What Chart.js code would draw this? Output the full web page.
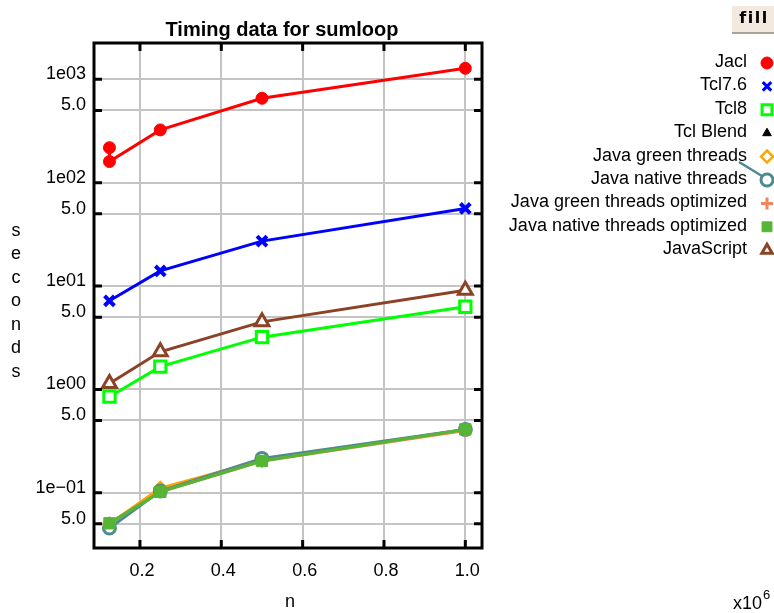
<!DOCTYPE html>
<html lang="en">
<head>
    <meta charset="UTF-8">
    <title>Timing data for sumloop</title>
    <style>
        body {
            margin: 0;
            padding: 0;
            background-color: #ffffff;
        }
        .container {
            width: 774px;
            height: 613px;
        }
    </style>
    <script src="https://cdn.jsdelivr.net/npm/chart.js"></script>
</head>
<body>
    <div class="container">
        <canvas id="timingChart" width="774" height="613"></canvas>
    </div>

    <script>
        // n values (x10^6)
        const nValues = [0.125, 0.25, 0.5, 1.0];
        const nJacl = [0.125, 0.125, 0.25, 0.5, 1.0];

        // seconds
        const jacl = [218, 160, 324, 655, 1277];
        const tcl76 = [7.2, 14.0, 27.2, 56.3];
        const tcl8 = [0.85, 1.66, 3.2, 6.3];
        const tclBlend = [];
        const javaGreen = [0.050, 0.111, 0.205, 0.41];
        const javaNative = [0.0456, 0.104, 0.215, 0.41];
        const javaGreenOpt = [0.051, 0.102, 0.203, 0.40];
        const javaNativeOpt = [0.0506, 0.102, 0.203, 0.41];
        const javaScript = [1.14, 2.31, 4.5, 9.1];

        const seriesNames = ['Jacl', 'Tcl7.6', 'Tcl8', 'Tcl Blend', 'Java green threads',
            'Java native threads', 'Java green threads optimized', 'Java native threads optimized', 'JavaScript'];

        const xTickValues = [0.2, 0.4, 0.6, 0.8, 1.0];
        const xTickLabels = ['0.2', '0.4', '0.6', '0.8', '1.0'];
        const yTickValues = [0.05, 0.1, 0.5, 1, 5, 10, 50, 100, 500, 1000];
        const yTickLabels = ['5.0', '1e\u221201', '5.0', '1e00', '5.0', '1e01', '5.0', '1e02', '5.0', '1e03'];

        const FONT = '"Liberation Sans", Arial, sans-serif';

        function points(xs, ys) {
            return ys.map((y, i) => ({ x: xs[i], y: y }));
        }

        // marker styles per series (legend uses the same ones)
        const styles = [
            { color: '#ff0000', pointStyle: 'circle', radius: 6, fill: '#ff0000', bw: 1 },
            { color: '#0000ff', pointStyle: 'crossRot', radius: 7, fill: '#0000ff', bw: 4 },
            { color: '#00ff00', pointStyle: 'rect', radius: 8, fill: '#ffffff', bw: 3 },
            { color: '#000000', pointStyle: 'triangle', radius: 6, fill: '#000000', bw: 1 },
            { color: '#ffa500', pointStyle: 'rectRot', radius: 6, fill: '#ffffff', bw: 2.5 },
            { color: '#4f8a8d', pointStyle: 'circle', radius: 6, fill: '#ffffff', bw: 3 },
            { color: '#f4845a', pointStyle: 'cross', radius: 6, fill: '#f4845a', bw: 3 },
            { color: '#55b535', pointStyle: 'rect', radius: 8, fill: '#55b535', bw: 1 },
            { color: '#8b4226', pointStyle: 'triangle', radius: 8, fill: '#ffffff', bw: 3 }
        ];

        const seriesData = [
            points(nJacl, jacl),
            points(nValues, tcl76),
            points(nValues, tcl8),
            points(nValues, tclBlend),
            points(nValues, javaGreen),
            points(nValues, javaNative),
            points(nValues, javaGreenOpt),
            points(nValues, javaNativeOpt),
            points(nValues, javaScript)
        ];

        const datasets = seriesNames.map((name, i) => ({
            label: name,
            data: seriesData[i],
            showLine: true,
            borderColor: styles[i].color,
            backgroundColor: styles[i].fill,
            pointBorderColor: styles[i].color,
            pointBackgroundColor: styles[i].fill,
            pointStyle: styles[i].pointStyle,
            pointRadius: styles[i].radius,
            pointBorderWidth: styles[i].bw,
            borderWidth: 3,
            order: 10 - i
        }));

        // frame, inward ticks, custom legend and extra labels
        const decorations = {
            id: 'decorations',
            afterDraw(chart) {
                const ctx = chart.ctx;
                const a = chart.chartArea;
                const xs = chart.scales.x;
                const ys = chart.scales.y;
                ctx.save();

                // inward tick marks
                ctx.strokeStyle = '#000';
                ctx.lineWidth = 3;
                ctx.beginPath();
                xTickValues.forEach(v => {
                    const px = xs.getPixelForValue(v);
                    ctx.moveTo(px, a.top); ctx.lineTo(px, a.top + 8);
                    ctx.moveTo(px, a.bottom); ctx.lineTo(px, a.bottom - 8);
                });
                yTickValues.forEach(v => {
                    const py = ys.getPixelForValue(v);
                    ctx.moveTo(a.left, py); ctx.lineTo(a.left + 8, py);
                    ctx.moveTo(a.right, py); ctx.lineTo(a.right - 8, py);
                });
                ctx.stroke();
                ctx.strokeRect(a.left, a.top, a.right - a.left, a.bottom - a.top);

                // title
                ctx.fillStyle = '#000';
                ctx.font = 'bold 20px ' + FONT;
                ctx.textAlign = 'center';
                ctx.textBaseline = 'middle';
                ctx.fillText('Timing data for sumloop', 282, 30);

                // y title, letters stacked
                ctx.font = '18px ' + FONT;
                'seconds'.split('').forEach((ch, i) => {
                    ctx.fillText(ch, 16, 231 + i * 23.5);
                });

                // x title and multiplier
                ctx.fillText('n', 290, 602);
                ctx.textAlign = 'left';
                ctx.fillText('x10', 733, 604);
                ctx.font = '13px ' + FONT;
                ctx.fillText('6', 763, 595);

                // fill button
                ctx.fillStyle = '#f3e9df';
                ctx.fillRect(732, 6, 42, 27);
                ctx.fillStyle = '#a9a39c';
                ctx.fillRect(732, 32, 42, 2);
                ctx.fillStyle = '#000';
                ctx.font = 'bold 16px "DejaVu Sans", sans-serif';
                ctx.letterSpacing = '1.5px';
                ctx.textAlign = 'center';
                ctx.fillText('fill', 754, 19);
                ctx.letterSpacing = '0px';

                // legend
                ctx.font = '18px ' + FONT;
                ctx.textAlign = 'right';
                const drawPoint = Chart.helpers && Chart.helpers.drawPoint;
                seriesNames.forEach((name, i) => {
                    const y = 62 + i * 23.4;
                    ctx.fillStyle = '#000';
                    ctx.fillText(name, 747, y);
                    const s = styles[i];
                    if (i === 5) {
                        ctx.strokeStyle = s.color;
                        ctx.lineWidth = 2.5;
                        ctx.beginPath();
                        ctx.moveTo(739, 162);
                        ctx.lineTo(762, 176);
                        ctx.stroke();
                    }
                    ctx.fillStyle = s.fill;
                    ctx.strokeStyle = s.color;
                    ctx.lineWidth = Math.min(s.bw, 3);
                    const r = (s.pointStyle === 'rect') ? 7 : (s.pointStyle === 'triangle' && i === 3 ? 5 : 6);
                    if (drawPoint) {
                        drawPoint(ctx, { pointStyle: s.pointStyle, radius: r, rotation: 0, borderWidth: s.bw }, 767, y + 1);
                    }
                });
                ctx.restore();
            }
        };

        const ctx = document.getElementById('timingChart').getContext('2d');
        new Chart(ctx, {
            type: 'scatter',
            data: { datasets: datasets },
            options: {
                responsive: false,
                animation: false,
                layout: { padding: { top: 43, right: 292, bottom: 0, left: 0 } },
                scales: {
                    x: {
                        type: 'linear',
                        min: 0.087,
                        max: 1.041,
                        afterBuildTicks: scale => { scale.ticks = xTickValues.map(v => ({ value: v })); },
                        afterFit: scale => { scale.height = 65; },
                        grid: { color: '#c4c4c4', lineWidth: 2, drawTicks: false },
                        border: { display: false },
                        ticks: {
                            color: '#000',
                            font: { family: FONT, size: 18 },
                            padding: 12,
                            labelOffset: 2,
                            maxRotation: 0,
                            callback: (value, index) => xTickLabels[index]
                        }
                    },
                    y: {
                        type: 'logarithmic',
                        min: 0.0292,
                        max: 2245,
                        afterBuildTicks: scale => { scale.ticks = yTickValues.map(v => ({ value: v })); },
                        afterFit: scale => { scale.width = 94; },
                        grid: { color: '#c4c4c4', lineWidth: 2, drawTicks: false },
                        border: { display: false },
                        ticks: {
                            color: '#000',
                            font: { family: FONT, size: 18 },
                            padding: 8,
                            labelOffset: -5,
                            autoSkip: false,
                            callback: (value, index) => yTickLabels[index]
                        }
                    }
                },
                plugins: {
                    legend: { display: false },
                    title: { display: false },
                    tooltip: { enabled: false }
                }
            },
            plugins: [decorations]
        });
    </script>
</body>
</html>
